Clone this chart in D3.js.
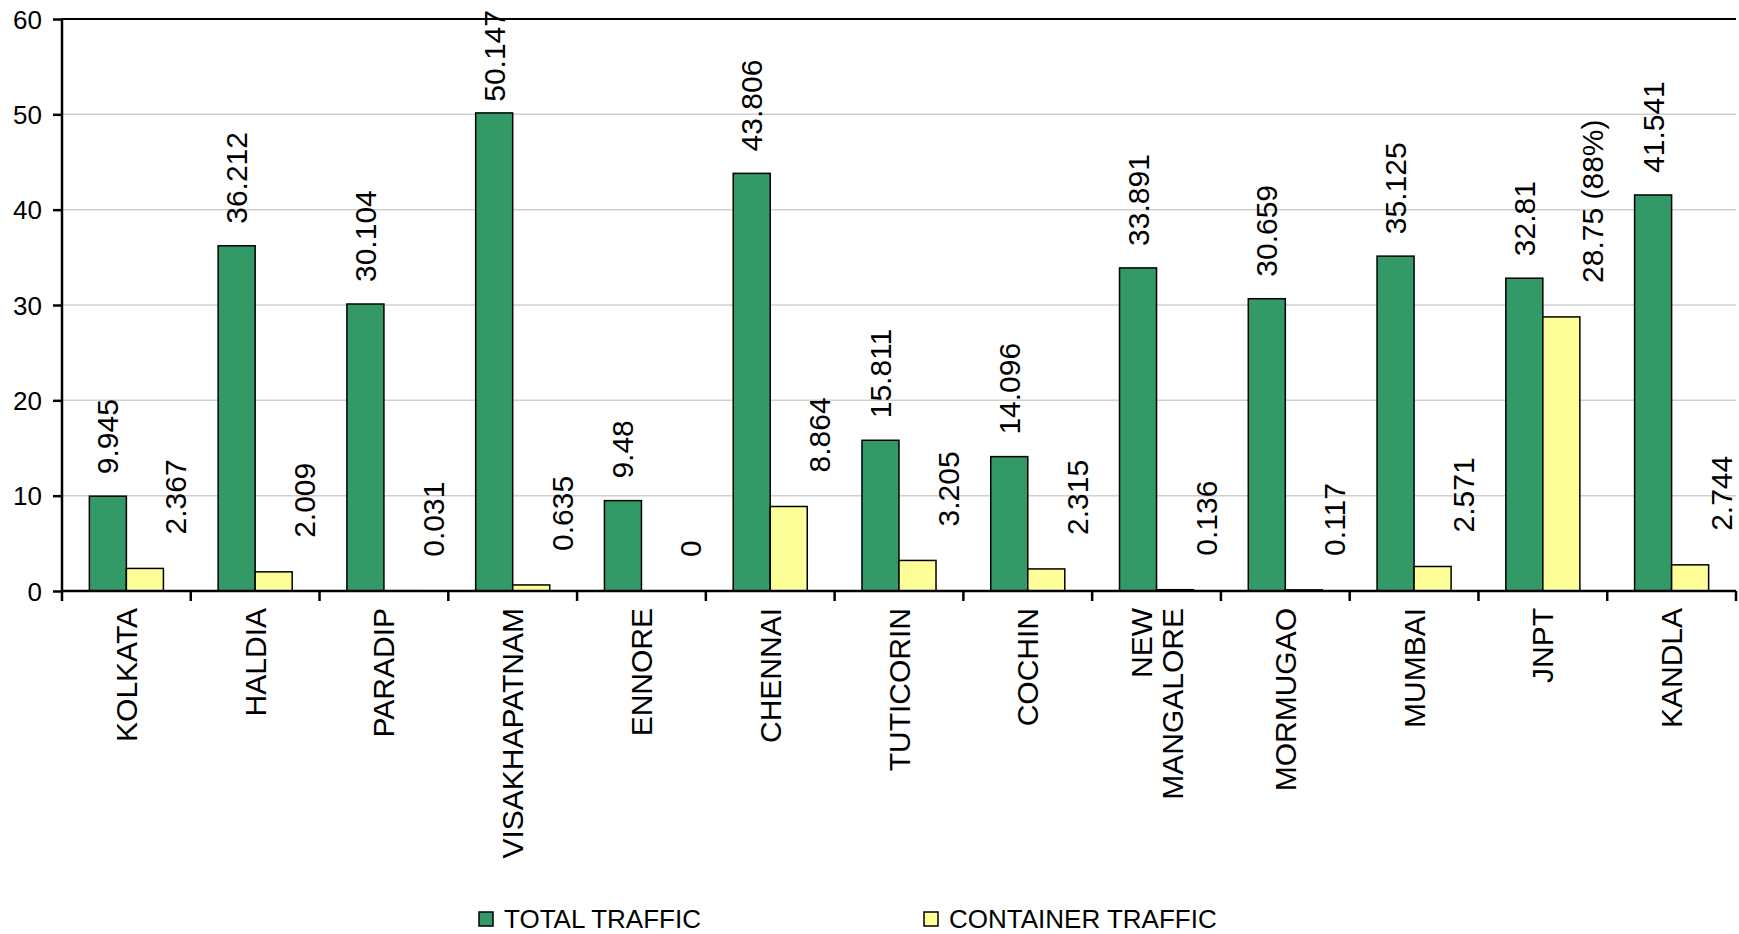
<!DOCTYPE html>
<html>
<head>
<meta charset="utf-8">
<script src="https://cdn.jsdelivr.net/npm/d3@7"></script>
<style>
  body { margin: 0; background: #fff; }
  svg text { font-family: "Liberation Sans", Arial, sans-serif; fill: #000; }
</style>
</head>
<body>
<svg id="chart" width="1739" height="934"></svg>
<script>
// Port traffic (million tonnes)
const ports = ["KOLKATA", "HALDIA", "PARADIP", "VISAKHAPATNAM", "ENNORE", "CHENNAI",
  "TUTICORIN", "COCHIN", "NEW MANGALORE", "MORMUGAO", "MUMBAI", "JNPT", "KANDLA"];
const totalTraffic = [9.945, 36.212, 30.104, 50.147, 9.48, 43.806, 15.811, 14.096,
  33.891, 30.659, 35.125, 32.81, 41.541];
const containerTraffic = [2.367, 2.009, 0.031, 0.635, 0, 8.864, 3.205, 2.315,
  0.136, 0.117, 2.571, 28.75, 2.744];
const sharePorts = ["JNPT"];            // ports whose container label also shows its share
const yTicks = [0, 10, 20, 30, 40, 50, 60];
const seriesNames = ["TOTAL TRAFFIC", "CONTAINER TRAFFIC"];
const seriesColors = ["#339966", "#FFFF99"];

const W = 1739, H = 934;
const margin = { top: 19, right: 3, bottom: 343, left: 62 };
const innerW = W - margin.left - margin.right;
const innerH = H - margin.top - margin.bottom;

const svg = d3.select("#chart");
const g = svg.append("g").attr("transform", `translate(${margin.left},${margin.top})`);

const x0 = d3.scaleBand().domain(ports).range([0, innerW])
  .paddingInner(0.425).paddingOuter(0.2125);
const x1 = d3.scaleBand().domain([0, 1]).range([0, x0.bandwidth()]);
const y = d3.scaleLinear().domain([0, 60]).range([innerH, 0]);

// horizontal gridlines
g.append("g").selectAll("line").data(yTicks.filter(t => t > 0 && t < 60)).join("line")
  .attr("x1", 0).attr("x2", innerW)
  .attr("y1", d => y(d)).attr("y2", d => y(d))
  .attr("stroke", "#d0d0d0").attr("stroke-width", 1.5);

// top border of plot area
g.append("line").attr("x1", 0).attr("x2", innerW).attr("y1", 0).attr("y2", 0)
  .attr("stroke", "#000").attr("stroke-width", 2);

// bars
const rows = ports.map((p, i) => ({ port: p, i, vals: [totalTraffic[i], containerTraffic[i]] }));
const groups = g.append("g").selectAll("g").data(rows).join("g")
  .attr("transform", d => `translate(${x0(d.port)},0)`);

groups.selectAll("rect").data(d => d.vals.map((v, k) => ({ v, k }))).join("rect")
  .filter(d => d.v > 0)
  .attr("x", d => x1(d.k))
  .attr("width", x1.bandwidth())
  .attr("y", d => y(d.v))
  .attr("height", d => y(0) - y(d.v))
  .attr("fill", d => seriesColors[d.k])
  .attr("stroke", "#000").attr("stroke-width", 1.5);

// value labels, vertical; kept inside the canvas
const labelSize = 30;
function placeLabel(sel, k, dx, gap) {
  sel.attr("dy", "0.35em")
    .attr("text-anchor", "start")
    .style("font-size", labelSize + "px")
    .each(function (d) {
      const len = this.getComputedTextLength();
      const yStart = Math.max(y(d.vals[k]) - gap, len - margin.top + 10);
      d3.select(this).attr("transform",
        `translate(${x1(k) + x1.bandwidth() / 2 + dx},${yStart}) rotate(-90)`);
    });
}

groups.append("text")
  .text(d => String(d.vals[0]))
  .call(placeLabel, 0, 0, 22);

groups.append("text")
  .text(d => {
    let s = String(d.vals[1]);
    if (sharePorts.includes(d.port)) s += ` (${Math.round(100 * d.vals[1] / d.vals[0])}%)`;
    return s;
  })
  .call(placeLabel, 1, 31, 34);

// y axis
const yAxis = g.append("g")
  .call(d3.axisLeft(y).tickValues(yTicks).tickSize(9).tickPadding(11).tickFormat(d3.format("d")));
yAxis.select(".domain").attr("stroke", "#000").attr("stroke-width", 2.5)
  .attr("d", `M0,${innerH}V0`);
yAxis.selectAll(".tick line").attr("stroke", "#000").attr("stroke-width", 2.5);
yAxis.selectAll(".tick text").style("font-size", "26px").attr("dy", "0.35em");

// x axis with ticks at category boundaries
const xAxisG = g.append("g").attr("transform", `translate(0,${innerH})`);
xAxisG.append("line").attr("x1", 0).attr("x2", innerW).attr("y1", 0).attr("y2", 0)
  .attr("stroke", "#000").attr("stroke-width", 2.5);
const step = x0.step();
xAxisG.selectAll("line.tk").data(d3.range(ports.length + 1)).join("line")
  .attr("class", "tk")
  .attr("x1", i => i * step).attr("x2", i => i * step)
  .attr("y1", 0).attr("y2", 10)
  .attr("stroke", "#000").attr("stroke-width", 2.5);

// category labels, vertical, wrapped on spaces
const lineGap = 31;
rows.forEach(d => {
  const lines = d.port.split(" ");
  const cx = x0(d.port) + x0.bandwidth() / 2;
  lines.forEach((ln, j) => {
    const off = (j - (lines.length - 1) / 2) * lineGap;
    xAxisG.append("text")
      .attr("transform", `translate(${cx + off},17) rotate(-90)`)
      .attr("dy", "0.35em")
      .attr("text-anchor", "end")
      .style("font-size", "30px")
      .text(ln);
  });
});

// legend
const legendX = [479, 924];
const legend = svg.append("g").attr("transform", `translate(0,919)`);
seriesNames.forEach((name, k) => {
  legend.append("rect").attr("x", legendX[k]).attr("y", -7).attr("width", 14).attr("height", 14)
    .attr("fill", seriesColors[k]).attr("stroke", "#000").attr("stroke-width", 1.5);
  legend.append("text").attr("x", legendX[k] + 25).attr("y", 0).attr("dy", "0.35em")
    .style("font-size", "26px").text(name);
});
</script>
</body>
</html>
